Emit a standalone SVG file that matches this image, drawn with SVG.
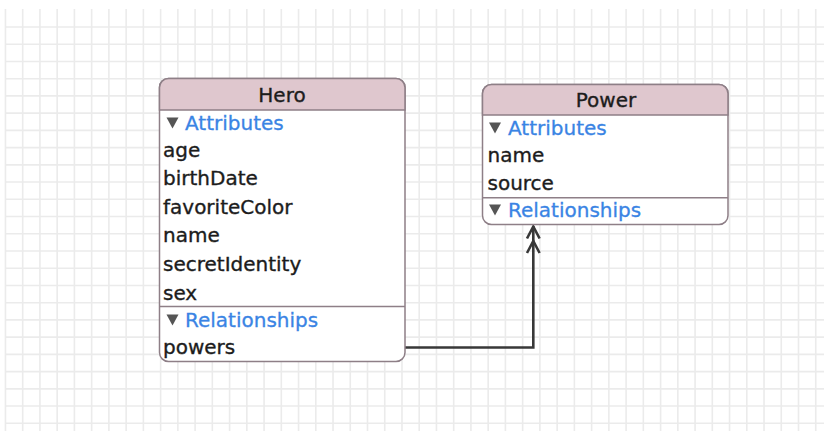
<svg xmlns="http://www.w3.org/2000/svg" width="824" height="431" viewBox="0 0 824 431">
<style>
.grid{stroke:#ebebeb;stroke-width:1.6;fill:none}
.box{fill:#ffffff;stroke:#8e7f87;stroke-width:1.5}
.hdr{fill:#dfc7ce;stroke:#8e7f87;stroke-width:1.5}
.sep{stroke:#8e7f87;stroke-width:1.5}
.t{font-family:"DejaVu Sans","Liberation Sans",sans-serif;font-size:20px;fill:#1c1c1c;stroke:#1c1c1c;stroke-width:0.35}
.title{text-anchor:middle}
.sec{font-family:"DejaVu Sans","Liberation Sans",sans-serif;font-size:20px;fill:#3a84e4;stroke:#3a84e4;stroke-width:0.3}
.tri{fill:#555555}
.conn{stroke:#383838;stroke-width:2.6;fill:none;stroke-linejoin:miter}
</style>
<rect width="824" height="431" fill="#ffffff"/>
<path class="grid" d="M5.46,9V431M22.7,9V431M39.94,9V431M57.18,9V431M74.42,9V431M91.66,9V431M108.9,9V431M126.14,9V431M143.38,9V431M160.62,9V431M177.86,9V431M195.1,9V431M212.34,9V431M229.58,9V431M246.82,9V431M264.06,9V431M281.3,9V431M298.54,9V431M315.78,9V431M333.02,9V431M350.26,9V431M367.5,9V431M384.74,9V431M401.98,9V431M419.22,9V431M436.46,9V431M453.7,9V431M470.94,9V431M488.18,9V431M505.42,9V431M522.66,9V431M539.9,9V431M557.14,9V431M574.38,9V431M591.62,9V431M608.86,9V431M626.1,9V431M643.34,9V431M660.58,9V431M677.82,9V431M695.06,9V431M712.3,9V431M729.54,9V431M746.78,9V431M764.02,9V431M781.26,9V431M798.5,9V431M815.74,9V431
M5,27H824M5,44.23H824M5,61.46H824M5,78.69H824M5,95.92H824M5,113.15H824M5,130.38H824M5,147.61H824M5,164.84H824M5,182.07H824M5,199.3H824M5,216.53H824M5,233.76H824M5,250.99H824M5,268.22H824M5,285.45H824M5,302.68H824M5,319.91H824M5,337.14H824M5,354.37H824M5,371.6H824M5,388.83H824M5,406.06H824M5,423.29H824"/>

<g id="connectors">
<path class="conn" d="M405,347.5H533.3V226"/>
<path class="conn" d="M527,238.5L533.3,226.5L539.6,238.5M527,253L533.3,241L539.6,253"/>
</g>

<g id="hero">
<rect class="box" x="159.5" y="78.5" width="245.5" height="283" rx="9" ry="9"/>
<path class="hdr" d="M159.5,110V87.5A9,9 0 0 1 168.5,78.5H396A9,9 0 0 1 405,87.5V110Z"/>
<text class="t title" x="282" y="101.5">Hero</text>
<path class="tri" d="M166.5,117.5H178.5L172.5,128.5Z"/>
<text class="sec" x="185" y="130">Attributes</text>
<text class="t" x="163" y="156.5">age</text>
<text class="t" x="163" y="185">birthDate</text>
<text class="t" x="163" y="213.7">favoriteColor</text>
<text class="t" x="163" y="242.3">name</text>
<text class="t" x="163" y="270.9">secretIdentity</text>
<text class="t" x="163" y="299.5">sex</text>
<line class="sep" x1="159.5" y1="306.5" x2="405" y2="306.5"/>
<path class="tri" d="M166.5,314.5H178.5L172.5,325.5Z"/>
<text class="sec" x="185" y="327">Relationships</text>
<text class="t" x="163" y="354">powers</text>
</g>

<g id="power">
<rect class="box" x="482.5" y="84.5" width="245.5" height="140" rx="9" ry="9"/>
<path class="hdr" d="M482.5,115V93.5A9,9 0 0 1 491.5,84.5H719A9,9 0 0 1 728,93.5V115Z"/>
<text class="t title" x="606" y="106.7">Power</text>
<path class="tri" d="M489,122.5H501L495,133.5Z"/>
<text class="sec" x="508" y="135">Attributes</text>
<text class="t" x="487.5" y="161.7">name</text>
<text class="t" x="487.5" y="190">source</text>
<line class="sep" x1="482.5" y1="197.7" x2="728" y2="197.7"/>
<path class="tri" d="M489,204.5H501L495,215.5Z"/>
<text class="sec" x="508" y="216.7">Relationships</text>
</g>
</svg>
